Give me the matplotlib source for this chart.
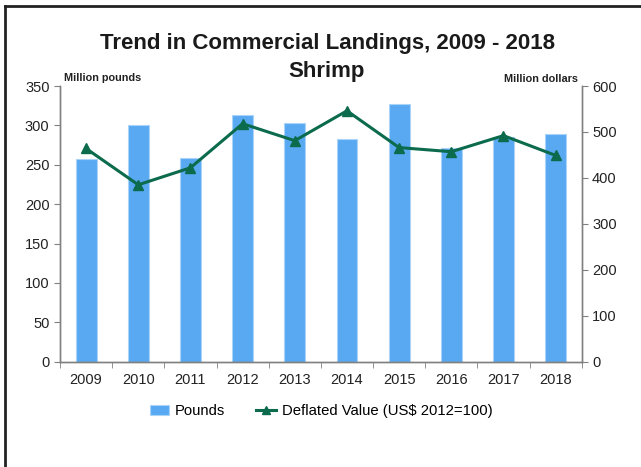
import matplotlib
matplotlib.use("Agg")
import matplotlib.pyplot as plt
from matplotlib.lines import Line2D
import numpy as np

plt.rcParams['font.family'] = ['Liberation Sans', 'DejaVu Sans']

years = ['2009', '2010', '2011', '2012', '2013', '2014', '2015', '2016', '2017', '2018']
pounds = [257, 301, 259, 313, 303, 283, 327, 271, 285, 289]
deflated_value = [464, 385, 422, 518, 481, 546, 466, 457, 492, 449]

W, H = 641, 467
fig = plt.figure(figsize=(W / 100, H / 100), dpi=100)
ax = fig.add_axes([60 / W, 1 - 361.7 / H, (581.7 - 60) / W, (361.7 - 86) / H])
ax2 = ax.twinx()

x = np.arange(len(years))
bars = ax.bar(x, pounds, width=0.4, color='#59A9F2', edgecolor='#A9D3F8', linewidth=0.8,
              label='Pounds', zorder=2)
line, = ax2.plot(x, deflated_value, color='#0B6B4C', linewidth=2.2, marker='^',
                 markersize=7, label='Deflated Value (US$ 2012=100)', zorder=3)

ax.set_xlim(-0.5, len(years) - 0.5)
ax.set_ylim(0, 350)
ax2.set_ylim(0, 600)
ax.set_yticks(range(0, 351, 50))
ax2.set_yticks(range(0, 601, 100))
ax.set_xticks(x)
ax.set_xticklabels(years)
ax.set_xticks(np.arange(-0.5, len(years), 1), minor=True)
ax.tick_params(axis='x', which='major', length=0, labelsize=10.5, pad=8, colors='#222222')
ax.tick_params(axis='x', which='minor', length=4, color='#808080', direction='out')
ax.tick_params(axis='y', length=4, color='#808080', labelsize=10.5, colors='#222222')
ax2.tick_params(axis='y', length=4, color='#808080', labelsize=10.5, colors='#222222')
for a in (ax, ax2):
    a.spines['top'].set_visible(False)
    for s in ('left', 'right', 'bottom'):
        a.spines[s].set_color('#808080')
        a.spines[s].set_linewidth(1.0)
ax.patch.set_visible(False)
ax2.set_zorder(ax.get_zorder() + 1)
ax2.patch.set_visible(False)

fig.text(327 / W, 1 - 44 / H, 'Trend in Commercial Landings, 2009 - 2018', ha='center', va='center',
         fontsize=16, fontweight='bold', color='#1a1a1a')
fig.text(327 / W, 1 - 71 / H, 'Shrimp', ha='center', va='center',
         fontsize=16, fontweight='bold', color='#1a1a1a')
fig.text(64 / W, 1 - 78 / H, 'Million pounds', ha='left', va='center', fontsize=7.8,
         fontweight='bold', color='#222222')
fig.text(578 / W, 1 - 79 / H, 'Million dollars', ha='right', va='center', fontsize=7.8,
         fontweight='bold', color='#222222')

fig.legend(handles=[bars, line], loc='center', bbox_to_anchor=(321 / W, 1 - 411 / H),
           ncol=2, frameon=False, fontsize=10.7, handlelength=1.3, columnspacing=2.1,
           handletextpad=0.4, markerscale=0.9)

fig.add_artist(Line2D([5 / W, 5 / W], [0, 1 - 6 / H], transform=fig.transFigure,
                      color='#222222', linewidth=2))
fig.add_artist(Line2D([5 / W, 1], [1 - 6 / H, 1 - 6 / H], transform=fig.transFigure,
                      color='#222222', linewidth=2))

fig.savefig('out.png', dpi=100)
